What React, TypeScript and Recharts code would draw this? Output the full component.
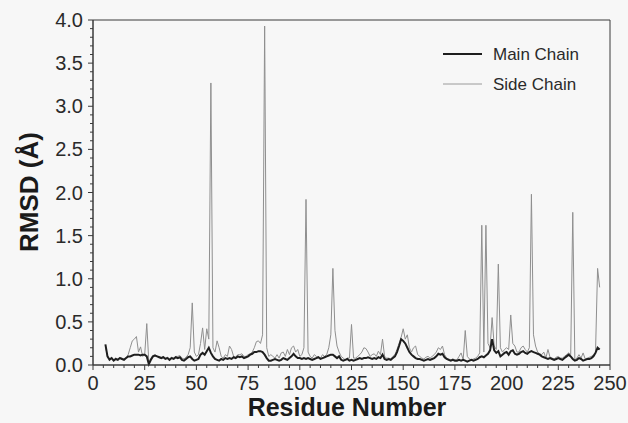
import React from 'react';
import { LineChart, Line, XAxis, YAxis, Legend, ReferenceArea, Label } from 'recharts';

const residueStart = 6;
const mainChain = [
  0.24, 0.10, 0.06, 0.08, 0.05, 0.07, 0.06, 0.08, 0.07, 0.06,
  0.08, 0.10, 0.10, 0.11, 0.12, 0.12, 0.12, 0.11, 0.12, 0.12,
  0.10, 0.01, 0.06, 0.10, 0.11, 0.10, 0.09, 0.08, 0.09, 0.07,
  0.08, 0.06, 0.08, 0.07, 0.09, 0.08, 0.09, 0.06, 0.05, 0.07,
  0.09, 0.10, 0.07, 0.05, 0.06, 0.07, 0.12, 0.14, 0.12, 0.16,
  0.20, 0.14, 0.10, 0.07, 0.06, 0.05, 0.07, 0.06, 0.08, 0.07,
  0.08, 0.07, 0.09, 0.08, 0.10, 0.09, 0.10, 0.08, 0.09, 0.10,
  0.12, 0.13, 0.15, 0.15, 0.16, 0.16, 0.15, 0.12, 0.08, 0.05,
  0.05, 0.06, 0.07, 0.06, 0.05, 0.06, 0.08, 0.07, 0.06, 0.08,
  0.10, 0.13, 0.10, 0.08, 0.08, 0.07, 0.08, 0.07, 0.08, 0.07,
  0.06, 0.07, 0.08, 0.09, 0.07, 0.08, 0.09, 0.10, 0.11, 0.12,
  0.12, 0.10, 0.08, 0.10, 0.06, 0.05, 0.06, 0.07, 0.05, 0.06,
  0.05, 0.06, 0.07, 0.08, 0.07, 0.08, 0.08, 0.09, 0.08, 0.07,
  0.08, 0.07, 0.09, 0.08, 0.12, 0.07, 0.06, 0.07, 0.06, 0.08,
  0.10, 0.15, 0.22, 0.30, 0.28, 0.25, 0.20, 0.15, 0.12, 0.10,
  0.08, 0.07, 0.07, 0.06, 0.05, 0.06, 0.07, 0.06, 0.07, 0.08,
  0.10, 0.13, 0.12, 0.13, 0.09, 0.07, 0.06, 0.05, 0.06, 0.05,
  0.05, 0.06, 0.05, 0.06, 0.05, 0.04, 0.05, 0.06, 0.05, 0.06,
  0.07, 0.09, 0.10, 0.09, 0.11, 0.13, 0.17, 0.30, 0.17, 0.14,
  0.16, 0.10, 0.12, 0.14, 0.15, 0.12, 0.16, 0.17, 0.13, 0.12,
  0.13, 0.15, 0.16, 0.14, 0.13, 0.15, 0.16, 0.15, 0.14, 0.13,
  0.12, 0.10, 0.09, 0.08, 0.07, 0.08, 0.07, 0.06, 0.07, 0.08,
  0.07, 0.06, 0.08, 0.10, 0.12, 0.10, 0.07, 0.05, 0.06, 0.08,
  0.07, 0.05, 0.06, 0.07, 0.07, 0.08, 0.10, 0.14, 0.20, 0.18,
];
const sideChain = [
  0.22, 0.10, 0.07, 0.09, 0.06, 0.08, 0.07, 0.09, 0.08, 0.07,
  0.08, 0.12, 0.20, 0.28, 0.30, 0.33, 0.15, 0.21, 0.10, 0.12,
  0.48, 0.03, 0.08, 0.11, 0.12, 0.10, 0.10, 0.09, 0.10, 0.08,
  0.09, 0.07, 0.09, 0.08, 0.10, 0.10, 0.11, 0.08, 0.07, 0.09,
  0.12, 0.20, 0.72, 0.15, 0.10, 0.12, 0.25, 0.43, 0.18, 0.42,
  0.30, 3.27, 0.20, 0.15, 0.28, 0.20, 0.10, 0.08, 0.12, 0.10,
  0.22, 0.18, 0.10, 0.09, 0.12, 0.12, 0.13, 0.10, 0.10, 0.12,
  0.13, 0.15, 0.20, 0.27, 0.28, 0.25, 0.35, 3.93, 0.20, 0.10,
  0.12, 0.10, 0.08, 0.12, 0.08, 0.14, 0.15, 0.10, 0.18, 0.12,
  0.20, 0.22, 0.15, 0.18, 0.10, 0.12, 0.20, 1.92, 0.15, 0.10,
  0.08, 0.12, 0.10, 0.09, 0.08, 0.12, 0.10, 0.12, 0.20, 0.35,
  1.12, 0.40, 0.22, 0.15, 0.10, 0.08, 0.06, 0.08, 0.08, 0.47,
  0.08, 0.08, 0.10, 0.12, 0.15, 0.20, 0.19, 0.15, 0.10, 0.12,
  0.13, 0.10, 0.16, 0.12, 0.30, 0.10, 0.08, 0.08, 0.07, 0.10,
  0.12, 0.18, 0.25, 0.32, 0.42, 0.30, 0.35, 0.20, 0.15, 0.20,
  0.22, 0.12, 0.10, 0.08, 0.07, 0.09, 0.10, 0.08, 0.10, 0.12,
  0.15, 0.20, 0.18, 0.22, 0.12, 0.08, 0.07, 0.06, 0.07, 0.06,
  0.06, 0.10, 0.14, 0.06, 0.40, 0.10, 0.07, 0.06, 0.07, 0.08,
  0.10, 0.14, 1.62, 0.15, 1.62, 0.25, 0.20, 0.55, 0.22, 0.18,
  1.17, 0.20, 0.15, 0.18, 0.20, 0.18, 0.58, 0.25, 0.22, 0.15,
  0.15, 0.20, 0.22, 0.18, 0.15, 0.20, 1.98, 0.35, 0.22, 0.15,
  0.13, 0.12, 0.15, 0.08, 0.18, 0.09, 0.08, 0.07, 0.09, 0.10,
  0.08, 0.08, 0.10, 0.12, 0.14, 0.12, 1.77, 0.06, 0.08, 0.12,
  0.08, 0.14, 0.07, 0.08, 0.09, 0.10, 0.12, 0.15, 1.12, 0.90,
];

const xMajorTicks = [0, 25, 50, 75, 100, 125, 150, 175, 200, 225, 250];
const yMajorTicks = [0, 0.5, 1.0, 1.5, 2.0, 2.5, 3.0, 3.5, 4.0];
const xMinorStep = 5;
const yMinorStep = 0.1;

const data = mainChain.map((m, i) => ({
  residue: residueStart + i,
  main: m,
  side: sideChain[i],
}));

const xTicks = Array.from({ length: 250 / xMinorStep + 1 }, (_, i) => i * xMinorStep);
const yTicks = Array.from({ length: 41 }, (_, i) => Math.round(i * yMinorStep * 10) / 10);

const FONT = '"Liberation Sans", Arial, Helvetica, sans-serif';
const AXIS = '#3a3a3a';
const TEXT = '#2a2a2a';

const isMajor = (v: number, majors: number[]) => majors.some((m) => Math.abs(m - v) < 1e-6);

const XTick = (props: any) => {
  const { x, y, payload } = props;
  const major = isMajor(payload.value, xMajorTicks);
  return (
    <g>
      <line x1={x} x2={x} y1={y} y2={y + (major ? 5 : 3)} stroke={AXIS} strokeWidth={1} />
      {major && (
        <text x={x} y={y + 25} textAnchor="middle" fontSize={20} fontFamily={FONT} fill={TEXT}>
          {payload.value}
        </text>
      )}
    </g>
  );
};

const YTick = (props: any) => {
  const { x, y, payload } = props;
  const major = isMajor(payload.value, yMajorTicks);
  return (
    <g>
      <line x1={x - (major ? 5 : 3)} x2={x} y1={y} y2={y} stroke={AXIS} strokeWidth={1} />
      {major && (
        <text x={x - 10} y={y + 7} textAnchor="end" fontSize={20} fontFamily={FONT} fill={TEXT}>
          {Number(payload.value).toFixed(1)}
        </text>
      )}
    </g>
  );
};

const LegendContent = () => (
  <svg width={160} height={50}>
    <line x1={2} x2={41} y1={9} y2={9} stroke="#1e1e1e" strokeWidth={2} />
    <text x={52} y={15} fontSize={17} fontFamily={FONT} fill={TEXT}>Main Chain</text>
    <line x1={2} x2={41} y1={39} y2={39} stroke="#9a9a9a" strokeWidth={1} />
    <text x={52} y={45} fontSize={17} fontFamily={FONT} fill={TEXT}>Side Chain</text>
  </svg>
);

export default function App() {
  return (
    <div style={{ position: 'absolute', left: 0, top: 0, width: 628, height: 423, background: '#f7f7f7' }}>
      <LineChart width={628} height={423} data={data} margin={{ top: 20, right: 18, bottom: 0, left: 0 }}>
        <XAxis
          dataKey="residue"
          type="number"
          domain={[0, 250]}
          ticks={xTicks}
          interval={0}
          tick={<XTick />}
          tickLine={false}
          tickSize={0}
          tickMargin={0}
          height={58}
          stroke={AXIS}
        >
          <Label
            content={() => (
              <text x={347} y={416} textAnchor="middle" fontSize={25} fontWeight="bold" fontFamily={FONT} fill="#1a1a1a">
                Residue Number
              </text>
            )}
          />
        </XAxis>
        <YAxis
          type="number"
          domain={[0, 4]}
          ticks={yTicks}
          interval={0}
          tick={<YTick />}
          tickLine={false}
          tickSize={0}
          tickMargin={0}
          width={93}
          stroke={AXIS}
        >
          <Label
            content={() => (
              <text
                x={38}
                y={192}
                transform="rotate(-90 38 192)"
                textAnchor="middle"
                fontSize={26}
                fontWeight="bold"
                fontFamily={FONT}
                fill="#1a1a1a"
              >
                RMSD (Å)
              </text>
            )}
          />
        </YAxis>
        <ReferenceArea x1={0} x2={250} y1={0} y2={4} fill="none" stroke={AXIS} strokeWidth={1} ifOverflow="extendDomain" />
        <Legend
          layout="horizontal"
          align="center"
          verticalAlign="middle"
          content={<LegendContent />}
          wrapperStyle={{ position: 'absolute', left: 441, top: 45, width: 160, height: 50 }}
        />
        <Line type="linear" dataKey="side" stroke="#8f8f8f" strokeWidth={1} dot={false} isAnimationActive={false} />
        <Line type="linear" dataKey="main" stroke="#1e1e1e" strokeWidth={2} dot={false} isAnimationActive={false} />
      </LineChart>
    </div>
  );
}
